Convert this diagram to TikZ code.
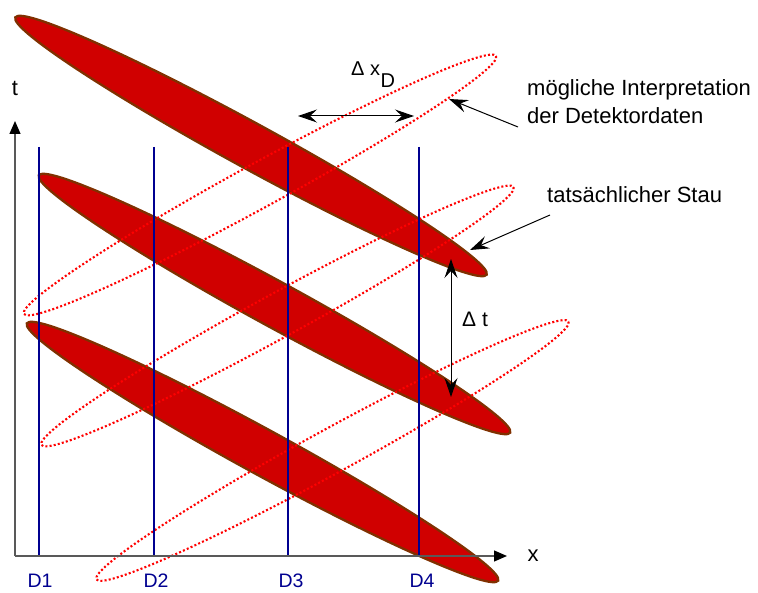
\documentclass[tikz,border=0pt]{standalone}
\usepackage{fontspec}
\setmainfont{Liberation Sans}
\usetikzlibrary{arrows.meta}
\definecolor{fillred}{HTML}{D00000}
\definecolor{edgebrown}{HTML}{803000}
\definecolor{detblue}{HTML}{000090}
\begin{document}
\begin{tikzpicture}[x=1pt,y=-1pt,
  stau/.style={fill=fillred, draw=edgebrown, line width=2.3pt},
  interp/.style={draw=red, line width=2.1pt, dash pattern=on 2pt off 2.2pt},
  detline/.style={draw=detblue, line width=2.8pt},
  detlabel/.style={text=detblue, font=\fontsize{19.5}{22}\selectfont, inner sep=0pt, anchor=base},
  lbl/.style={font=\fontsize{22}{28.5}\selectfont, inner sep=0pt},
  axisline/.style={draw=black!65, line width=1.2pt, -{Triangle[length=13pt,width=11pt,color=black]}},
  dimline/.style={line width=1pt, {Stealth[length=19pt,width=13pt,inset=7pt]}-{Stealth[length=19pt,width=13pt,inset=7pt]}},
  ptr/.style={line width=1pt, -{Stealth[length=19pt,width=13pt,inset=7pt]}}
]
\useasboundingbox (0,0) rectangle (758,593);

% actual jams (solid)
\foreach \cx/\cy in {251/146, 274.5/304, 262.5/452}
  \draw[stau, shift={(\cx,\cy)}, rotate=-28.64] (0,0) ellipse [x radius=268.5, y radius=22.5];

% possible interpretation (dotted)
\foreach \cx/\cy in {260/185, 277.5/316, 332.5/450.5}
  \draw[interp, shift={(\cx,\cy)}, rotate=28.64] (0,0) ellipse [x radius=269, y radius=22];

% detectors
\foreach \i/\xx/\lx in {1/39/40, 2/154/156, 3/288/291, 4/419/422} {
  \coordinate (d\i t) at (\xx,147);
  \coordinate (d\i b) at (\xx,556);
  \draw[detline] (d\i t) -- (d\i b);
  \node[detlabel] (D\i) at (\lx,587) {D\i};
}

% axes
\coordinate (O) at (15,556);
\coordinate (xend) at (507,556);
\coordinate (tend) at (15,121);
\draw[axisline] (O) -- (xend);
\draw[axisline] (O) -- (tend);
\node[lbl] (xlab) at (533,556) {x};
\node[lbl] (tlab) at (15,88) {t};

% delta x_D
\coordinate (dxl) at (298,116);
\coordinate (dxr) at (414,116);
\draw[dimline] (dxl) -- (dxr);
\node[lbl, font=\fontsize{20}{22}\selectfont, anchor=base west] (dxlab) at (351,76) {Δ x\hspace{0.5pt}\raisebox{-12pt}{D}};

% delta t
\coordinate (dtt) at (451,259);
\coordinate (dtb) at (451,397);
\draw[dimline] (dtt) -- (dtb);
\node[lbl, font=\fontsize{21}{22}\selectfont, anchor=base west] (dtlab) at (462,327) {Δ t};

% annotations
\node[lbl, align=left, anchor=base west] (interplab) at (527,124) {mögliche Interpretation\\der Detektordaten};
\node[lbl, anchor=base west] (staulab) at (547,202.7) {tatsächlicher Stau};
\coordinate (p1s) at (518,127);
\coordinate (p1e) at (449,99);
\coordinate (p2s) at (550,215);
\coordinate (p2e) at (470,250);
\draw[ptr] (p1s) -- (p1e);
\draw[ptr] (p2s) -- (p2e);
\end{tikzpicture}
\end{document}
